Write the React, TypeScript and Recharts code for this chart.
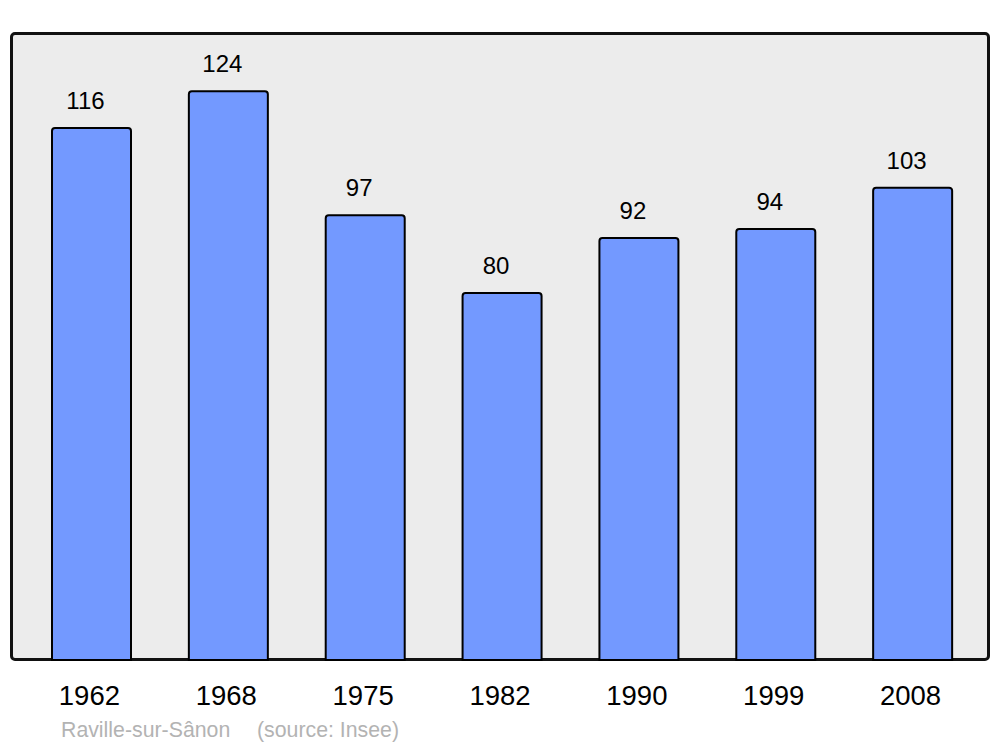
import React from "react";
import { BarChart, Bar, XAxis, YAxis, LabelList } from "recharts";

const years = ["1962", "1968", "1975", "1982", "1990", "1999", "2008"];
const population = [116, 124, 97, 80, 92, 94, 103];
const sourceName = "Raville-sur-Sânon";
const sourceNote = "(source: Insee)";

const data = years.map((y, i) => ({ year: y, pop: population[i] }));

const FONT = "'Liberation Sans', Arial, sans-serif";

const ValueLabel = (props: any) => {
  const { x, y, width, value } = props;
  return (
    <text x={x + width / 2 - 6} y={y - 19} textAnchor="middle" fontSize={24} fontFamily={FONT} fill="#000">
      {value}
    </text>
  );
};

const Tick = (props: any) => {
  const { x, y, payload } = props;
  return (
    <text x={x - 2} y={y + 45} textAnchor="middle" fontSize={27.5} fontFamily={FONT} fill="#000">
      {payload.value}
    </text>
  );
};

export default function App() {
  return (
    <div style={{ position: "absolute", left: 0, top: 0, width: 1000, height: 747, background: "#fff" }}>
      <div
        style={{
          position: "absolute",
          left: 10,
          top: 32,
          width: 980,
          height: 629,
          boxSizing: "border-box",
          border: "3px solid #111",
          borderRadius: 5,
          background: "#ececec",
        }}
      />
      <div style={{ position: "absolute", left: 0, top: 0 }}>
        <BarChart width={1000} height={747} data={data} margin={{ top: 34, right: 11, left: 11, bottom: 47 }}>
          <XAxis
            dataKey="year"
            axisLine={false}
            tickLine={false}
            tickSize={0}
            tickMargin={0}
            height={40}
            interval={0}
            padding={{ left: 12, right: 8 }}
            tick={<Tick />}
          />
          <YAxis hide domain={[0, 136.5]} />
          <Bar dataKey="pop" fill="#7399ff" stroke="#000" strokeWidth={2} barSize={79} radius={[3, 3, 0, 0]} isAnimationActive={false}>
            <LabelList dataKey="pop" content={<ValueLabel />} />
          </Bar>
        </BarChart>
      </div>
      <svg width={1000} height={747} style={{ position: "absolute", left: 0, top: 0, pointerEvents: "none" }}>
        <text x={61} y={737} fontSize={21.3} fontFamily={FONT} fill="#b3b3b3">
          {sourceName}
        </text>
        <text x={257} y={737} fontSize={21.3} fontFamily={FONT} fill="#b3b3b3">
          {sourceNote}
        </text>
      </svg>
    </div>
  );
}
